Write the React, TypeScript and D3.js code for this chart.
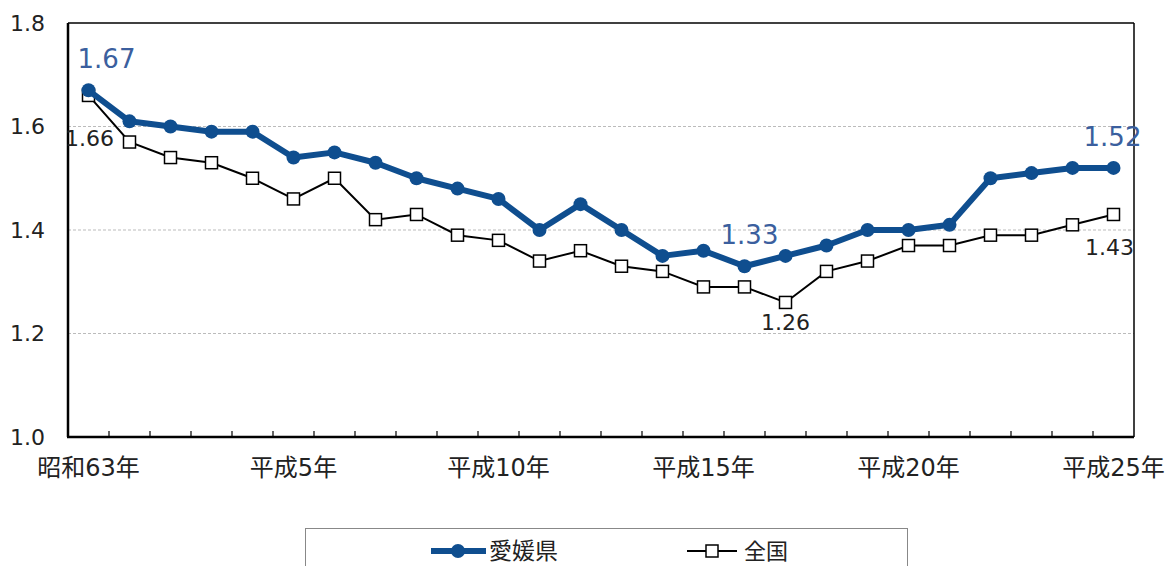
import * as d3 from 'd3';
import React, { useEffect, useRef } from 'react';

const years = [
  '昭和63年', '平成元年', '平成2年', '平成3年', '平成4年', '平成5年', '平成6年', '平成7年', '平成8年',
  '平成9年', '平成10年', '平成11年', '平成12年', '平成13年', '平成14年', '平成15年', '平成16年',
  '平成17年', '平成18年', '平成19年', '平成20年', '平成21年', '平成22年', '平成23年', '平成24年', '平成25年',
];
const ehime = [1.67, 1.61, 1.6, 1.59, 1.59, 1.54, 1.55, 1.53, 1.5, 1.48, 1.46, 1.4, 1.45, 1.4, 1.35, 1.36, 1.33, 1.35, 1.37, 1.4, 1.4, 1.41, 1.5, 1.51, 1.52, 1.52];
const zenkoku = [1.66, 1.57, 1.54, 1.53, 1.5, 1.46, 1.5, 1.42, 1.43, 1.39, 1.38, 1.34, 1.36, 1.33, 1.32, 1.29, 1.29, 1.26, 1.32, 1.34, 1.37, 1.37, 1.39, 1.39, 1.41, 1.43];
const shownYears = ['昭和63年', '平成5年', '平成10年', '平成15年', '平成20年', '平成25年'];
const yTicks = [1.0, 1.2, 1.4, 1.6, 1.8];

const FONT = '"DejaVu Sans", "Noto Sans CJK JP", sans-serif';
const BLUE = '#0f4e8f';
const LABEL_BLUE = '#3b5f9e';

const App = () => {
  const svgRef = useRef<SVGSVGElement>(null);

  useEffect(() => {
    const svg = d3.select(svgRef.current);
    svg.selectAll('*').remove();

    const width = 1168;
    const height = 566;
    const left = 68, right = 1134, top = 23, bottom = 437;

    const x = d3.scaleBand().domain(years).range([left, right]);
    const y = d3.scaleLinear().domain([1.0, 1.8]).range([bottom, top]);
    const cx = (i: number) => (x(years[i]) as number) + x.bandwidth() / 2;

    svg.attr('width', width).attr('height', height);

    // grid lines
    svg.append('g').selectAll('line')
      .data(yTicks.filter(t => t > 1.0 && t < 1.8))
      .join('line')
      .attr('x1', left).attr('x2', right)
      .attr('y1', d => y(d)).attr('y2', d => y(d))
      .attr('stroke', '#bbbbbb')
      .attr('stroke-width', 1)
      .attr('stroke-dasharray', '3,2');

    // frame: top & right thin
    svg.append('line').attr('x1', left).attr('x2', right).attr('y1', top).attr('y2', top)
      .attr('stroke', '#000').attr('stroke-width', 1.5);
    svg.append('line').attr('x1', right).attr('x2', right).attr('y1', top).attr('y2', bottom)
      .attr('stroke', '#000').attr('stroke-width', 1.5);

    // x ticks at category boundaries
    svg.append('g').selectAll('line')
      .data(years.slice(1))
      .join('line')
      .attr('x1', d => x(d) as number).attr('x2', d => x(d) as number)
      .attr('y1', bottom).attr('y2', bottom - 6)
      .attr('stroke', '#000').attr('stroke-width', 1.2);

    // axes lines
    svg.append('line').attr('x1', left).attr('x2', left).attr('y1', top).attr('y2', bottom)
      .attr('stroke', '#000').attr('stroke-width', 2.5);
    svg.append('line').attr('x1', left - 1).attr('x2', right).attr('y1', bottom).attr('y2', bottom)
      .attr('stroke', '#000').attr('stroke-width', 2.5);

    // y labels
    svg.append('g').selectAll('text')
      .data(yTicks)
      .join('text')
      .attr('x', 45).attr('y', d => y(d))
      .attr('dy', '0.35em')
      .attr('text-anchor', 'end')
      .style('font-family', FONT).style('font-size', '22px').attr('fill', '#222')
      .text(d => d.toFixed(1));

    // x labels
    svg.append('g').selectAll('text')
      .data(shownYears)
      .join('text')
      .attr('x', d => (x(d) as number) + x.bandwidth() / 2)
      .attr('y', 476)
      .attr('text-anchor', 'middle')
      .style('font-family', FONT).style('font-size', '24px').attr('fill', '#222')
      .text(d => d);

    const line = d3.line<number>().x((_, i) => cx(i)).y(d => y(d));

    // 全国
    svg.append('path').datum(zenkoku).attr('d', line)
      .attr('fill', 'none').attr('stroke', '#000').attr('stroke-width', 2);
    svg.append('g').selectAll('rect')
      .data(zenkoku)
      .join('rect')
      .attr('x', (_, i) => cx(i) - 6).attr('y', d => y(d) - 6)
      .attr('width', 12).attr('height', 12)
      .attr('fill', '#fff').attr('stroke', '#000').attr('stroke-width', 1.5);

    // 愛媛県
    svg.append('path').datum(ehime).attr('d', line)
      .attr('fill', 'none').attr('stroke', BLUE).attr('stroke-width', 6).attr('stroke-linejoin', 'round');
    svg.append('g').selectAll('circle')
      .data(ehime)
      .join('circle')
      .attr('cx', (_, i) => cx(i)).attr('cy', d => y(d)).attr('r', 7)
      .attr('fill', BLUE);

    // value labels
    const blueLabels = [0, 16, 25];
    svg.append('g').selectAll('text')
      .data(blueLabels)
      .join('text')
      .attr('x', i => cx(i) + (i === 0 ? 18 : i === 25 ? -1 : 5))
      .attr('y', i => y(ehime[i]) - 22)
      .attr('text-anchor', 'middle')
      .style('font-family', FONT).style('font-size', '26px').attr('fill', LABEL_BLUE)
      .text(i => ehime[i].toFixed(2));

    const blackLabels = [0, 17, 25];
    svg.append('g').selectAll('text')
      .data(blackLabels)
      .join('text')
      .attr('x', i => cx(i) + (i === 0 ? 1 : i === 25 ? -4 : 0))
      .attr('y', i => y(zenkoku[i]) + (i === 0 ? 51 : i === 17 ? 28 : 41))
      .attr('text-anchor', 'middle')
      .style('font-family', FONT).style('font-size', '22px').attr('fill', '#222')
      .text(i => zenkoku[i].toFixed(2));

    // legend
    const lg = svg.append('g');
    lg.append('rect').attr('x', 305.5).attr('y', 528.5).attr('width', 602).attr('height', 60)
      .attr('fill', '#fff').attr('stroke', '#888').attr('stroke-width', 1);
    lg.append('line').attr('x1', 431).attr('x2', 486).attr('y1', 551).attr('y2', 551)
      .attr('stroke', BLUE).attr('stroke-width', 6);
    lg.append('circle').attr('cx', 458).attr('cy', 551).attr('r', 7).attr('fill', BLUE);
    lg.append('text').attr('x', 489).attr('y', 551).attr('dy', '0.35em')
      .style('font-family', FONT).style('font-size', '23px').attr('fill', '#222').text('愛媛県');
    lg.append('line').attr('x1', 687).attr('x2', 737).attr('y1', 551).attr('y2', 551)
      .attr('stroke', '#000').attr('stroke-width', 2);
    lg.append('rect').attr('x', 706).attr('y', 545).attr('width', 12).attr('height', 12)
      .attr('fill', '#fff').attr('stroke', '#000').attr('stroke-width', 1.5);
    lg.append('text').attr('x', 744).attr('y', 551).attr('dy', '0.35em')
      .style('font-family', FONT).style('font-size', '22px').attr('fill', '#222').text('全国');
  }, []);

  return (
    <svg ref={svgRef} style={{ position: 'absolute', left: 0, top: 0, display: 'block' }}></svg>
  );
};

export default App;
